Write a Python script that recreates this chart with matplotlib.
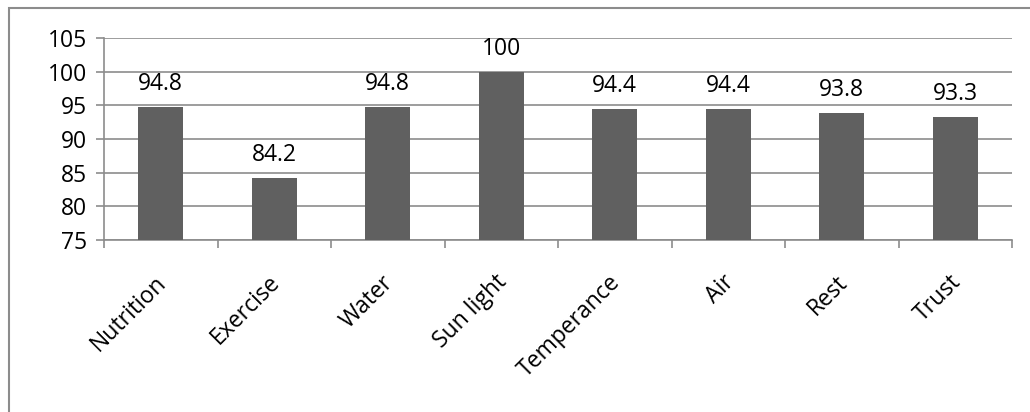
import matplotlib.pyplot as plt
from matplotlib.patches import Rectangle
from matplotlib.transforms import ScaledTranslation

categories = ['Nutrition', 'Exercise', 'Water', 'Sun light', 'Temperance', 'Air', 'Rest', 'Trust']
values = [94.8, 84.2, 94.8, 100, 94.4, 94.4, 93.8, 93.3]
yticks = [75, 80, 85, 90, 95, 100, 105]

plt.rcParams['font.family'] = ['Open Sans', 'DejaVu Sans']
FS = 16.5

W, H = 1030, 412
fig = plt.figure(figsize=(W / 100, H / 100), dpi=100)

# outer chart frame (clipped at right and bottom like the source)
fig.patches.append(Rectangle((9 / W, -0.1), 1.2, 1 - 8 / H + 0.1, transform=fig.transFigure,
                             fill=False, edgecolor='#8c8c8c', linewidth=1.5))

ax = fig.add_axes([104 / W, 1 - 240 / H, (1012 - 104) / W, (240 - 38) / H])

x = range(len(categories))
ax.bar(x, values, width=0.4, bottom=0, color='#606060', zorder=3)
ax.set_ylim(75, 105)
ax.set_xlim(-0.5, len(categories) - 0.5)
ax.set_yticks(yticks)
ax.set_yticklabels([str(t) for t in yticks], fontsize=FS)
ax.yaxis.grid(True, color='#8c8c8c', linewidth=1.2, zorder=0)

for xi, v in zip(x, values):
    lbl = f'{v:g}'
    ax.annotate(lbl, (xi, v), xytext=(0, 8), textcoords='offset points',
                ha='center', va='bottom', fontsize=FS)

ax.set_xticks(x)
ax.set_xticklabels(categories, rotation=45, ha='right', rotation_mode='anchor', fontsize=FS)
ax.tick_params(axis='x', length=0, pad=22)
shift = ScaledTranslation(-6 / 100, 0, fig.dpi_scale_trans)
for t in ax.get_xticklabels():
    t.set_transform(t.get_transform() + shift)
# boundary ticks between categories
ax.set_xticks([i - 0.5 for i in range(len(categories) + 1)], minor=True)
ax.tick_params(axis='x', which='minor', length=6, color='#8c8c8c', width=1.2)
ax.tick_params(axis='y', length=6, color='#8c8c8c', width=1.2, pad=6)

for s in ['top', 'right']:
    ax.spines[s].set_visible(False)
for s in ['left', 'bottom']:
    ax.spines[s].set_color('#8c8c8c')
    ax.spines[s].set_linewidth(1.2)

fig.savefig('out.png', dpi=100)
